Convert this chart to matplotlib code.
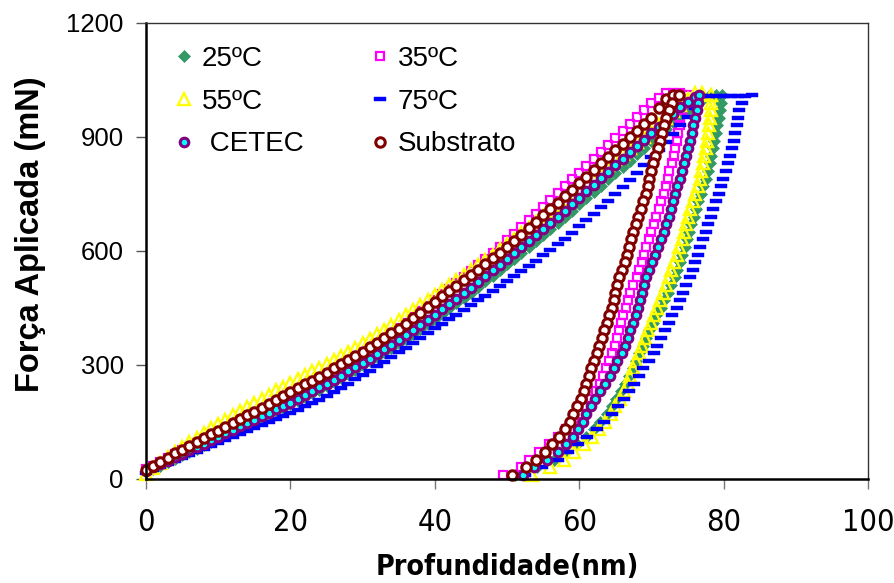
import os
import matplotlib
matplotlib.use("Agg")
import matplotlib.pyplot as plt
from matplotlib import font_manager
from matplotlib.font_manager import FontProperties

plt.rcParams['font.family'] = ['Liberation Sans', 'DejaVu Sans']


def find_font(keys):
    files = {os.path.basename(f.fname): f.fname for f in font_manager.fontManager.ttflist}
    for k in keys:
        if k in files:
            return files[k]
    return None


narrow_reg = find_font(['LiberationSansNarrow-Regular.ttf', 'DejaVuSansCondensed.ttf'])
narrow_bold = find_font(['LiberationSansNarrow-Bold.ttf', 'DejaVuSansCondensed-Bold.ttf'])

# loading branch: depth grid (nm) shared by all samples
load_depth = [0, 1, 2, 3, 4, 5, 6, 7, 8, 9, 10, 11, 12, 13, 14, 15, 16, 17, 18, 19,
              20, 21, 22, 23, 24, 25, 26, 27, 28, 29, 30, 31, 32, 33, 34, 35, 36, 37, 38, 39,
              40, 41, 42, 43, 44, 45, 46, 47, 48, 49, 50, 51, 52, 53, 54, 55, 56, 57, 58, 59,
              60, 61, 62, 63, 64, 65, 66, 67, 68, 69, 70, 71, 72, 73, 74, 75, 76, 77, 78]

# unloading branch: force grid (mN) shared by all samples
unload_force = [1010, 990, 970, 950, 930, 910, 890, 870, 850, 830, 810, 790, 770, 750, 730, 710, 690,
                670, 650, 630, 610, 590, 570, 550, 530, 510, 490, 470, 450, 430, 410, 390, 370, 350,
                330, 310, 290, 270, 250, 230, 210, 190, 170, 150, 130, 110, 90, 70, 50, 30, 10]

labels = ['25ºC', '35ºC', '55ºC', '75ºC', ' CETEC', 'Substrato']

load_25 = [16, 25, 34, 43, 52, 61, 70, 79, 88, 97, 106, 115, 124, 133, 142, 151, 160, 169, 178, 187,
           196, 205, 214, 224, 234, 244, 254, 265, 276, 287, 298, 309, 320, 332, 344, 356, 368, 381, 394, 407,
           420, 434, 448, 462, 476, 490, 504, 519, 534, 549, 564, 579, 594, 610, 626, 642, 658, 674, 690, 706,
           722, 738, 754, 771, 788, 804, 820, 837, 854, 871, 888, 905, 922, 939, 956, 972, 988, 998, 1008]
load_35 = [24, 34, 44, 54, 64, 74, 84, 94, 104, 114, 124, 134, 144, 154, 164, 174, 184, 194, 204, 215,
           226, 236, 246, 256, 266, 277, 288, 299, 310, 322, 334, 346, 358, 371, 384, 397, 410, 425, 440, 455,
           470, 485, 500, 515, 530, 546, 562, 578, 594, 611, 628, 645, 662, 680, 698, 716, 734, 752, 770, 788,
           806, 824, 842, 860, 878, 897, 916, 934, 952, 970, 988, 1002, 1015]
load_55 = [12, 27, 42, 56, 70, 83, 96, 108, 120, 132, 144, 155, 166, 177, 188, 199, 210, 221, 232, 242,
           252, 262, 272, 282, 292, 302, 312, 323, 334, 345, 356, 368, 380, 392, 404, 417, 430, 443, 456, 470,
           484, 497, 510, 523, 536, 549, 562, 576, 590, 604, 618, 632, 646, 661, 676, 691, 706, 721, 736, 751,
           766, 781, 796, 811, 826, 841, 856, 871, 886, 900, 915, 932, 950, 968, 985, 1000, 1015]
load_75 = [14, 22, 30, 38, 46, 54, 62, 70, 78, 86, 94, 102, 110, 117, 125, 132, 140, 148, 156, 164,
           172, 181, 190, 199, 208, 218, 228, 239, 250, 261, 272, 284, 296, 308, 320, 332, 344, 357, 370, 383,
           396, 408, 420, 432, 444, 457, 470, 482, 494, 507, 520, 533, 546, 560, 574, 588, 602, 617, 632, 648,
           664, 681, 698, 715, 732, 750, 768, 787, 806, 826, 846, 866, 886, 908, 930, 952, 975]
load_cetec = [20, 29, 38, 47, 56, 65, 74, 83, 92, 101, 110, 119, 128, 137, 146, 155, 164, 173, 182, 191,
              200, 210, 220, 230, 240, 250, 260, 271, 282, 293, 304, 316, 328, 340, 352, 365, 378, 391, 404, 418,
              432, 446, 460, 474, 488, 503, 518, 533, 548, 563, 578, 594, 610, 626, 642, 658, 674, 690, 706, 723,
              740, 757, 774, 791, 808, 825, 842, 859, 876, 893, 910, 927, 944, 961, 978, 992, 1005]
load_sub = [22, 33, 44, 55, 66, 76, 86, 96, 106, 116, 126, 136, 146, 156, 166, 176, 186, 196, 206, 217,
            228, 238, 248, 258, 268, 279, 290, 301, 312, 323, 334, 346, 358, 370, 382, 395, 408, 422, 436, 451,
            466, 480, 494, 508, 522, 536, 550, 565, 580, 595, 610, 626, 642, 659, 676, 693, 710, 727, 744, 761,
            778, 795, 812, 830, 848, 865, 882, 899, 916, 933, 950, 975, 1000]

# depths held at peak load
hold_25 = [79]
hold_35 = [73, 74]
hold_55 = [77]
hold_75 = [77, 78, 79, 80, 81, 82, 83]
hold_cetec = []
hold_sub = [73]
peak = [1010, 1015, 1015, 1008, 1005, 1010]

unload_25 = [79.8, 79.7, 79.5, 79.3, 79.1, 78.9, 78.7, 78.5, 78.3, 78.1, 77.8, 77.5, 77.2, 76.9, 76.5, 76.2, 75.9,
             75.5, 75.2, 74.9, 74.6, 74.3, 74.0, 73.6, 73.2, 72.7, 72.3, 71.8, 71.3, 70.7, 70.2, 69.7, 69.2, 68.8,
             68.3, 67.9, 67.4, 66.9, 66.3, 65.8, 65.1, 64.5, 63.8, 62.9, 62.0, 61.0, 59.7, 58.2, 56.5, 54.2, 51.1]
unload_35 = [75.0, 74.5, 74.2, 74.0, 73.9, 73.7, 73.6, 73.3, 73.1, 72.8, 72.5, 72.3, 72.0, 71.7, 71.3, 71.0, 70.7,
             70.3, 70.0, 69.7, 69.3, 69.0, 68.7, 68.3, 68.0, 67.5, 67.1, 66.8, 66.5, 66.1, 65.8, 65.5, 65.3, 65.0,
             64.5, 64.1, 63.7, 63.3, 62.9, 62.3, 61.7, 61.0, 60.3, 59.3, 58.2, 57.0, 55.8, 54.5, 53.0, 52.0, 49.4]
unload_55 = [78.3, 78.3, 78.2, 78.1, 78.0, 77.8, 77.7, 77.5, 77.3, 77.1, 76.9, 76.7, 76.4, 76.1, 75.7, 75.4, 75.1,
             74.8, 74.5, 74.2, 73.8, 73.5, 73.1, 72.7, 72.4, 72.0, 71.6, 71.2, 70.8, 70.4, 70.0, 69.5, 69.1, 68.7,
             68.3, 67.9, 67.5, 67.1, 66.7, 66.2, 65.6, 65.0, 64.4, 63.6, 62.7, 61.8, 60.6, 59.3, 57.9, 56.0, 53.5]
unload_75 = [83.9, 82.6, 82.2, 82.0, 81.8, 81.6, 81.4, 81.2, 80.9, 80.6, 80.3, 79.9, 79.6, 79.3, 78.9, 78.6, 78.2,
             77.8, 77.5, 77.2, 76.8, 76.5, 76.1, 75.7, 75.3, 74.8, 74.4, 74.0, 73.5, 72.9, 72.4, 71.9, 71.3, 70.8,
             70.3, 69.6, 68.9, 68.3, 67.6, 66.9, 66.2, 65.4, 64.6, 63.5, 62.4, 61.1, 59.8, 58.5, 57.0, 54.8, 52.5]
unload_cetec = [76.6, 76.5, 76.3, 76.1, 75.8, 75.6, 75.3, 75.0, 74.8, 74.5, 74.2, 73.9, 73.6, 73.3, 73.0, 72.7, 72.4,
                72.0, 71.7, 71.3, 70.9, 70.5, 70.1, 69.7, 69.3, 69.0, 68.7, 68.4, 68.1, 67.8, 67.5, 67.1, 66.7, 66.3,
                65.9, 65.3, 64.8, 64.2, 63.6, 62.9, 62.2, 61.6, 61.0, 60.5, 59.9, 59.2, 58.2, 57.0, 55.5, 53.8, 52.2]
unload_sub = [73.8, 72.9, 72.4, 72.0, 71.7, 71.5, 71.2, 70.9, 70.5, 70.2, 69.9, 69.7, 69.5, 69.2, 68.8, 68.5, 68.2,
              67.8, 67.5, 67.2, 66.9, 66.6, 66.3, 65.9, 65.5, 65.2, 65.0, 64.8, 64.5, 64.1, 63.8, 63.5, 63.1, 62.8,
              62.4, 62.0, 61.7, 61.4, 61.0, 60.6, 60.2, 59.7, 59.2, 58.7, 58.0, 57.2, 56.3, 55.2, 54.0, 52.6, 50.7]

loads = [load_25, load_35, load_55, load_75, load_cetec, load_sub]
holds = [hold_25, hold_35, hold_55, hold_75, hold_cetec, hold_sub]
unloads = [unload_25, unload_35, unload_55, unload_75, unload_cetec, unload_sub]
for u in unloads:
    assert len(u) == len(unload_force), len(u)

dash = [(-1, -0.42), (1, -0.42), (1, 0.42), (-1, 0.42), (-1, -0.42)]
styles = [
    dict(marker='D', ms=6.5, mfc='#339966', mec='#339966', mew=0.5),
    dict(marker='s', ms=5.5, mfc='none', mec='#FF00FF', mew=1.6),
    dict(marker='^', ms=8.5, mfc='none', mec='#FFFF00', mew=1.7),
    dict(marker=dash, ms=8.5, mfc='#0000FF', mec='#0000FF', mew=0.3),
    dict(marker='o', ms=6.2, mfc='#00FFFF', mec='#800080', mew=2.2),
    dict(marker='o', ms=6.8, mfc='white', mec='#800000', mew=2.2),
]

fig = plt.figure(figsize=(8.95, 5.83), dpi=100)
ax = fig.add_axes([146 / 895, 1 - 478.5 / 583, 722 / 895, 455.5 / 583])

handles = []
for lf, hd, ud, pk, lab, st in zip(loads, holds, unloads, peak, labels, styles):
    x = load_depth[:len(lf)] + hd + ud
    y = lf + [pk] * len(hd) + unload_force
    h, = ax.plot(x, y, linestyle='none', label=lab, clip_on=False, **st)
    handles.append(h)

ax.set_xlim(0, 100)
ax.set_ylim(0, 1200)
ax.set_xticks([0, 20, 40, 60, 80, 100])
ax.set_yticks([0, 300, 600, 900, 1200])

for s in ['left', 'bottom']:
    ax.spines[s].set_linewidth(1.8)
    ax.spines[s].set_color('black')
for s in ['top', 'right']:
    ax.spines[s].set_linewidth(1.0)
    ax.spines[s].set_color('#333333')

ax.tick_params(axis='y', direction='out', length=7, width=1, color='#555555', pad=9, labelsize=18.5)
ax.tick_params(axis='x', direction='out', length=7, width=1, color='#777777', pad=14)
tick_fp = FontProperties(fname=narrow_reg, size=22) if narrow_reg else FontProperties(family='DejaVu Sans', stretch='condensed', size=20)
ax.set_xticklabels(['0', '20', '40', '60', '80', '100'], fontproperties=tick_fp)

lab_fp = FontProperties(fname=narrow_bold, size=20.5) if narrow_bold else FontProperties(family='DejaVu Sans', weight='bold', size=19)
ax.set_ylabel('Força Aplicada (mN)', fontsize=23.5, fontweight='bold')
ax.yaxis.set_label_coords(-100 / 722, (478.5 - 234) / 455.5)
ax.set_xlabel('Profundidade(nm)', fontproperties=lab_fp)
ax.xaxis.set_label_coords(0.5, -74 / 455.5)

order = [0, 2, 4, 1, 3, 5]
ax.legend([handles[i] for i in order], [labels[i] for i in order], ncol=2, frameon=False,
          loc='upper left', bbox_to_anchor=(176 / 895, 1 - 46 / 583), bbox_transform=fig.transFigure,
          fontsize=20, handlelength=0.6, handletextpad=0.33, columnspacing=2.45,
          labelspacing=0.6, borderpad=0, borderaxespad=0)

fig.savefig('out.png', dpi=100)
